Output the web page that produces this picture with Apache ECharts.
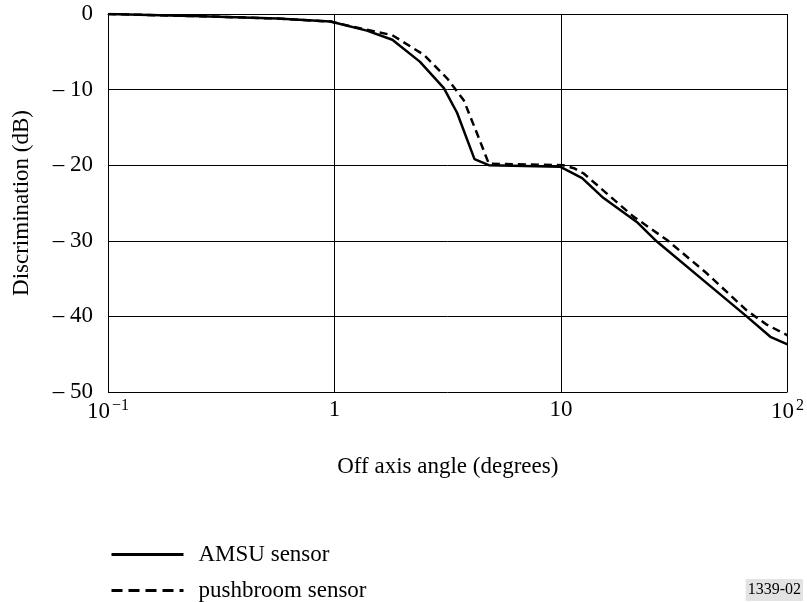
<!DOCTYPE html>
<html>
<head>
<meta charset="utf-8">
<script src="https://cdn.jsdelivr.net/npm/echarts@6/dist/echarts.min.js"></script>
<style>
  html, body { margin: 0; padding: 0; background: #fff; }
  #main { width: 807px; height: 602px; }
</style>
</head>
<body>
<div id="main"></div>
<script>
// off axis angle (degrees) and discrimination (dB)
var amsuAngle = [0.1, 0.26, 0.56, 0.96, 1.39, 1.8, 2.38, 3.04, 3.48, 4.15, 4.8, 9.9, 12.4, 15.2, 21.6, 26.5, 44, 66, 84, 100];
var amsuDb = [0, -0.3, -0.6, -1.0, -2.2, -3.4, -6.3, -9.8, -13.1, -19.2, -20.0, -20.2, -21.7, -24.2, -27.5, -30.1, -35.6, -40.0, -42.7, -43.7];

var pushAngle = [0.1, 0.26, 0.56, 0.96, 1.17, 1.8, 2.48, 3.14, 3.72, 4.26, 4.8, 10.2, 11.4, 12.6, 20.9, 29.4, 44, 66, 81, 100];
var pushDb = [0, -0.3, -0.6, -1.0, -1.6, -2.8, -5.4, -8.5, -11.4, -15.8, -19.8, -20.0, -20.4, -21.1, -26.8, -29.9, -34.3, -39.2, -41.1, -42.5];

var seriesNames = ['AMSU sensor', 'pushbroom sensor'];

function pairs(xs, ys) {
    return xs.map(function (x, i) { return [x, ys[i]]; });
}

var font = 'Liberation Serif';
var fs = 23;
var chart = echarts.init(document.getElementById('main'), null, { renderer: 'canvas' });

// one legend row per series, stacked like the original key
function legendRow(name, top, dash) {
    return {
        orient: 'vertical',
        left: 110,
        top: top,
        padding: 0,
        itemWidth: 72,
        itemHeight: 20,
        itemStyle: { opacity: 0 },
        lineStyle: { width: 3, type: dash },
        textStyle: { fontFamily: font, fontSize: fs, color: '#000', padding: [0, 0, 0, 10] },
        data: [name]
    };
}

var option = {
    backgroundColor: '#fff',
    animation: false,
    textStyle: { fontFamily: font, color: '#000' },
    title: {
        text: '1339-02',
        right: 4,
        bottom: 1,
        padding: [3, 2],
        backgroundColor: '#e3e3e3',
        textStyle: { fontFamily: font, fontSize: 16, fontWeight: 'normal', color: '#000' }
    },
    legend: [legendRow(seriesNames[0], 543, 'solid'), legendRow(seriesNames[1], 579, [11, 6])],
    grid: {
        left: 108,
        right: 19,
        top: 14,
        bottom: 210
    },
    xAxis: {
        type: 'log',
        logBase: 10,
        min: 0.1,
        max: 100,
        name: 'Off axis angle (degrees)',
        nameLocation: 'middle',
        nameGap: 63,
        nameTextStyle: { fontFamily: font, fontSize: fs, color: '#000' },
        axisLine: { lineStyle: { color: '#000', width: 1 } },
        axisTick: { show: false },
        splitLine: { show: true, lineStyle: { color: '#000', width: 1 } },
        axisLabel: {
            margin: 6,
            fontFamily: font,
            fontSize: fs,
            color: '#000',
            formatter: function (v) {
                var p = Math.round(Math.log(v) / Math.LN10);
                if (p === 0) return '1';
                if (p === 1) return '10';
                return '{b|10}{s|' + (p < 0 ? '\u2212' + (-p) : p) + '}';
            },
            rich: {
                b: { fontFamily: font, fontSize: fs, color: '#000' },
                s: { fontFamily: font, fontSize: 16, color: '#000', verticalAlign: 'top', padding: [0, 0, 12, 2] }
            }
        }
    },
    yAxis: {
        type: 'value',
        min: -50,
        max: 0,
        interval: 10,
        name: 'Discrimination (dB)',
        nameLocation: 'middle',
        nameGap: 75,
        nameTextStyle: { fontFamily: font, fontSize: fs, color: '#000' },
        axisLine: { show: true, lineStyle: { color: '#000', width: 1 } },
        axisTick: { show: false },
        splitLine: { show: true, lineStyle: { color: '#000', width: 1 } },
        axisLabel: {
            margin: 15,
            fontFamily: font,
            fontSize: fs,
            color: '#000',
            formatter: function (v) {
                return v === 0 ? '0' : '\u2013 ' + Math.abs(v);
            }
        }
    },
    series: [{
        name: seriesNames[0],
        type: 'line',
        symbol: 'none',
        smooth: false,
        lineStyle: { color: '#000', width: 2.5, type: 'solid' },
        itemStyle: { color: '#000' },
        data: pairs(amsuAngle, amsuDb)
    }, {
        name: seriesNames[1],
        type: 'line',
        symbol: 'none',
        smooth: false,
        lineStyle: { color: '#000', width: 2.5, type: [8, 5] },
        itemStyle: { color: '#000' },
        data: pairs(pushAngle, pushDb)
    }]
};

chart.setOption(option);
</script>
</body>
</html>
